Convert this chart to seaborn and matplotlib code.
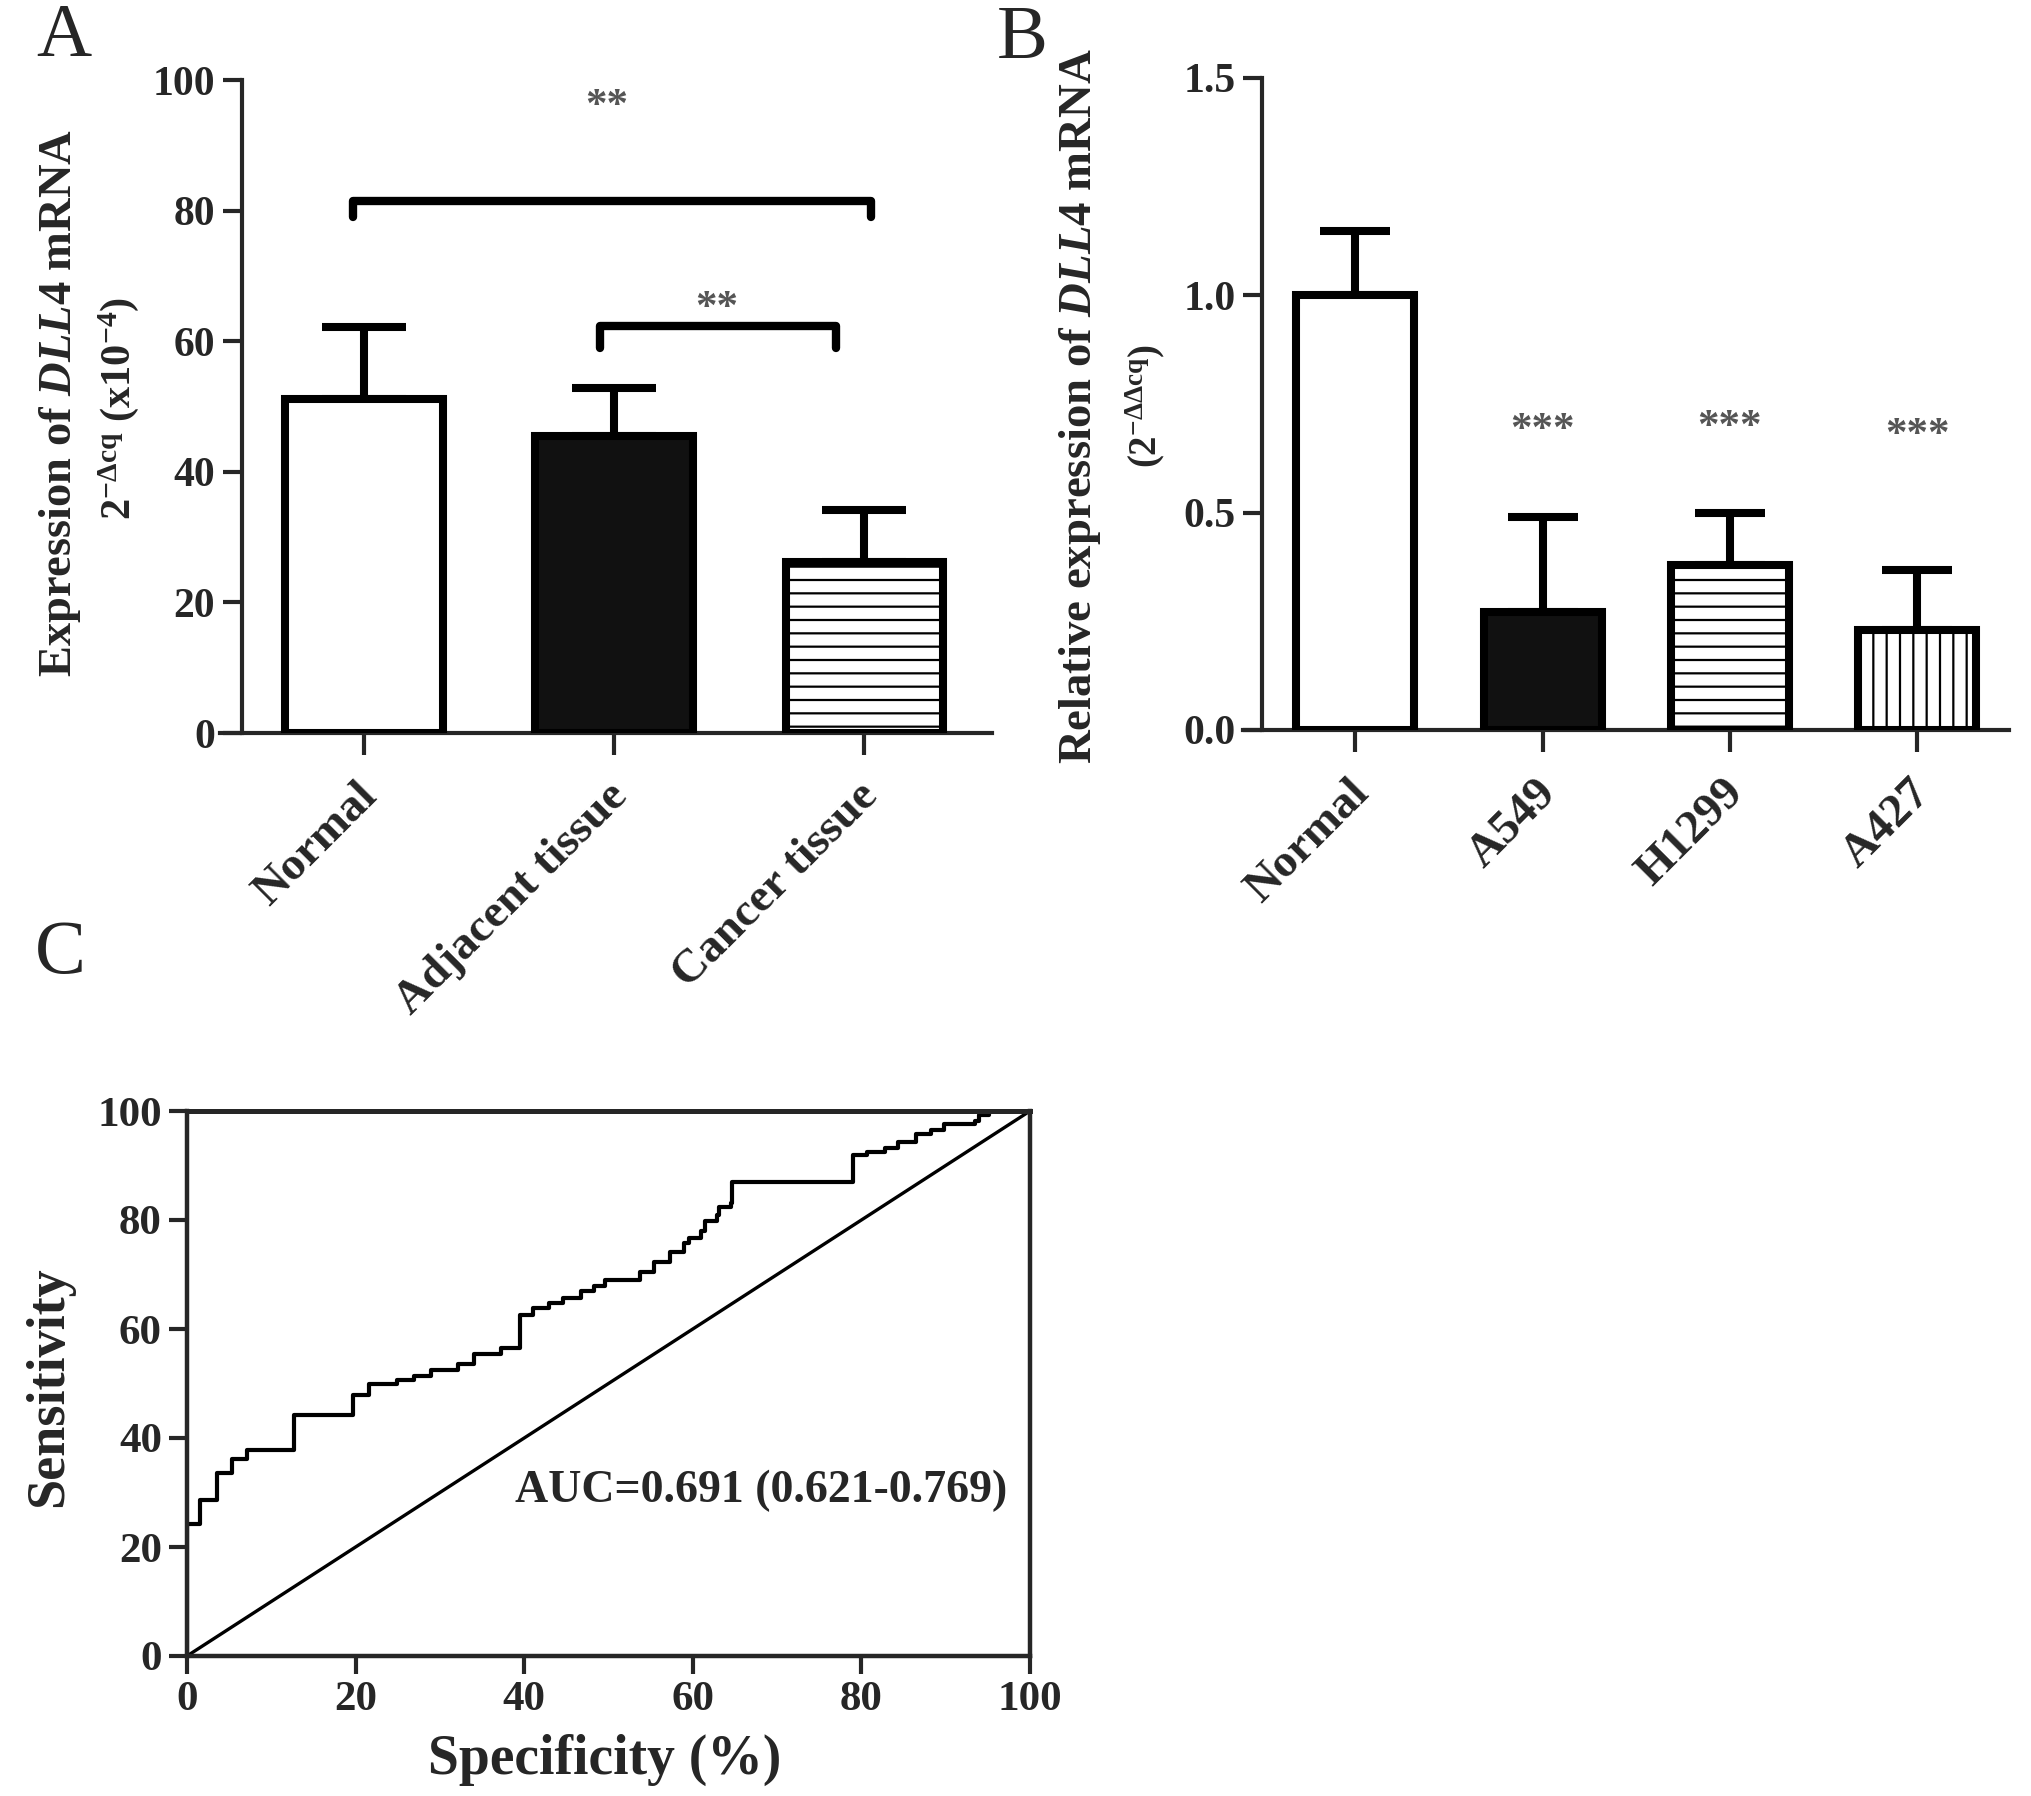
import numpy as np
import pandas as pd
import matplotlib
matplotlib.use("Agg")
import matplotlib.pyplot as plt
from matplotlib.transforms import ScaledTranslation
import seaborn as sns

# ---------------- data ----------------
a_groups = ["Normal", "Adjacent tissue", "Cancer tissue"]
a_means = [51.2, 45.5, 26.2]
a_err_up = [10.9, 7.3, 7.9]
a_ticks = [0, 20, 40, 60, 80, 100]

b_groups = ["Normal", "A549", "H1299", "A427"]
b_means = [1.0, 0.272, 0.379, 0.230]
b_err_up = [0.149, 0.218, 0.120, 0.139]
b_ticks = [0.0, 0.5, 1.0, 1.5]
b_sig = ["", "***", "***", "***"]

roc_spec = [0, 0, 1.55, 3.6, 5.3, 7.1, 12.7, 19.7, 21.6, 24.9, 26.9, 28.9, 32.2,
            34.1, 37.3, 39.5, 41.0, 43.0, 44.6, 46.7, 48.3, 49.6, 53.7, 55.4,
            57.3, 59.0, 59.6, 61.0, 61.5, 62.9, 63.1, 64.5, 64.7, 79.0, 80.7,
            82.8, 84.4, 86.5, 88.2, 89.8, 93.5, 93.9, 95.1, 100]
roc_sens = [0, 24.3, 28.6, 33.5, 36.1, 37.8, 44.2, 47.9, 49.9, 50.7, 51.4, 52.4,
            53.6, 55.5, 56.5, 62.5, 63.8, 64.7, 65.7, 66.9, 67.9, 69.0, 70.4,
            72.3, 74.2, 75.8, 76.7, 78.0, 79.9, 80.9, 82.4, 83.1, 86.9, 91.9,
            92.5, 93.2, 94.4, 95.7, 96.6, 97.6, 98.2, 99.2, 100, 100]
roc_ref = [0, 100]
roc_ticks = [0, 20, 40, 60, 80, 100]
auc_text = "AUC=0.691 (0.621-0.769)"

# ---------------- style ----------------
DPI = 80
S = 100 / DPI          # sizes below are given as at 100 dpi


def pt(v):
    return v * S


sns.set_theme(style="ticks")
plt.rcParams["font.family"] = ["Liberation Serif", "DejaVu Serif"]
plt.rcParams.update({
    "font.weight": "bold",
    "axes.labelweight": "bold",
    "mathtext.fontset": "custom",
    "mathtext.rm": "Liberation Serif:bold",
    "mathtext.bf": "Liberation Serif:bold",
    "mathtext.it": "Liberation Serif:italic:bold",
    "mathtext.default": "rm",
    "hatch.linewidth": pt(1.6),
    "hatch.color": "black",
    "axes.facecolor": "white",
    "figure.facecolor": "white",
})

W, H = 2031, 1796
fig = plt.figure(figsize=(W / DPI, H / DPI), dpi=DPI)


def px_box(x0, x1, ytop, ybot):
    return [x0 / W, 1 - ybot / H, (x1 - x0) / W, (ybot - ytop) / H]


axA = fig.add_axes(px_box(220, 992, 80, 733))
axB = fig.add_axes(px_box(1243, 2009, 78, 730))
axC = fig.add_axes(px_box(187, 1030, 1111, 1656))

EDGE = pt(5.8)


def bar_panel(ax, groups, means, errs, fills, hatches, capsize, ylim, yticks,
              ytick_fmt, xlim, yspine_x):
    df = pd.DataFrame({"group": groups, "value": means})
    sns.barplot(data=df, x="group", y="value", ax=ax, width=0.63,
                errorbar=None, color="white", edgecolor="black",
                linewidth=EDGE, zorder=3)
    for p, fc, h in zip(ax.patches, fills, hatches):
        p.set_facecolor(fc)
        p.set_hatch(h)
        p.set_edgecolor("black")
    x = np.arange(len(groups))
    ax.errorbar(x, means, yerr=[np.zeros(len(means)), errs], fmt="none",
                ecolor="black", elinewidth=EDGE, capsize=pt(capsize),
                capthick=EDGE, zorder=2)
    ax.set_xlim(*xlim)
    ax.set_ylim(*ylim)
    ax.set_yticks(yticks)
    ax.set_yticklabels([ytick_fmt(v) for v in yticks])
    ax.set_xlabel("")
    ax.set_ylabel("")
    for s in ["top", "right"]:
        ax.spines[s].set_visible(False)
    for s in ["left", "bottom"]:
        ax.spines[s].set_linewidth(pt(3))
    ax.spines["left"].set_position(("data", yspine_x))
    ax.spines["left"].set_bounds(ylim[0], ylim[1])
    ax.tick_params(axis="y", direction="out", length=pt(14), width=pt(3),
                   pad=pt(5), labelsize=pt(30))
    ax.tick_params(axis="x", direction="out", length=pt(16), width=pt(3),
                   pad=pt(25), labelsize=pt(34))
    ax.set_xticks(x)
    ax.set_xticklabels(groups, rotation=45, ha="right", va="center",
                       rotation_mode="anchor")
    off = ScaledTranslation(pt(5) / 72, 0, fig.dpi_scale_trans)
    for lab in ax.get_xticklabels():
        lab.set_transform(lab.get_transform() + off)
        lab.set_fontweight("bold")
    for lab in ax.get_yticklabels():
        lab.set_fontweight("bold")


# ---------- Panel A ----------
bar_panel(axA, a_groups, a_means, a_err_up,
          fills=["white", "#111111", "white"], hatches=["", "", "-"],
          capsize=30, ylim=(0, 100), yticks=a_ticks,
          ytick_fmt=lambda v: f"{v:d}", xlim=(-0.576, 2.51), yspine_x=-0.49)


def bracket(ax, x0, x1, y, drop):
    ax.plot([x0, x0, x1, x1], [y - drop, y, y, y - drop], color="black",
            lw=pt(6), solid_capstyle="round", solid_joinstyle="round",
            clip_on=False, zorder=4)


bracket(axA, -0.045, 2.026, 81.5, 2.5)
bracket(axA, 0.942, 1.886, 62.3, 3.3)
axA.text(0.97, 94.3, "**", ha="center", va="baseline", fontsize=pt(31),
         color="#555555", clip_on=False)
axA.text(1.41, 63.4, "**", ha="center", va="baseline", fontsize=pt(31),
         color="#555555", clip_on=False)

fig.text(60 / W, 1 - 403 / H, r"Expression of $\mathit{DLL4}$ mRNA",
         rotation=90, ha="center", va="center", fontsize=pt(33.5))
fig.text(119 / W, 1 - 408 / H, r"2$^{-\Delta cq}$ (x10$^{-4}$)",
         rotation=90, ha="center", va="center", fontsize=pt(30.5))

# ---------- Panel B ----------
bar_panel(axB, b_groups, b_means, b_err_up,
          fills=["white", "#111111", "white", "white"],
          hatches=["", "", "-", "|"],
          capsize=25, ylim=(0, 1.5), yticks=b_ticks,
          ytick_fmt=lambda v: f"{v:.1f}", xlim=(-0.60, 3.49), yspine_x=-0.497)
b_star_y = [0, 0.665, 0.671, 0.654]
for i, s in enumerate(b_sig):
    if s:
        axB.text(i, b_star_y[i], s, ha="center", va="baseline",
                 fontsize=pt(31), color="#555555", clip_on=False)

fig.text(1080 / W, 1 - 406 / H, r"Relative expression of $\mathit{DLL4}$ mRNA",
         rotation=90, ha="center", va="center", fontsize=pt(33.7))
fig.text(1145 / W, 1 - 406 / H, r"(2$^{-\Delta\Delta cq}$)",
         rotation=90, ha="center", va="center", fontsize=pt(28))

# ---------- Panel C ----------
sns.lineplot(x=roc_spec, y=roc_sens, ax=axC, estimator=None, sort=False,
             drawstyle="steps-post", color="black", lw=pt(3.0))
sns.lineplot(x=roc_ref, y=roc_ref, ax=axC, estimator=None, sort=False,
             color="black", lw=pt(2.4))
axC.set_xlim(0, 100)
axC.set_ylim(0, 100)
axC.set_xticks(roc_ticks)
axC.set_yticks(roc_ticks)
axC.set_xticklabels([str(t) for t in roc_ticks], fontweight="bold")
axC.set_yticklabels([str(t) for t in roc_ticks], fontweight="bold")
axC.tick_params(direction="out", length=pt(13), width=pt(3),
                labelsize=pt(31), pad=pt(5))
for s in ["left", "bottom", "right"]:
    axC.spines[s].set_linewidth(pt(3.2))
axC.spines["top"].set_linewidth(pt(3.6))
axC.set_xlabel("")
axC.set_ylabel("")
axC.text(38.9, 28.3, auc_text, ha="left", va="baseline", fontsize=pt(33))

fig.text(49 / W, 1 - 1387 / H, "Sensitivity", rotation=90, ha="center",
         va="center", fontsize=pt(39))
fig.text(605 / W, 1 - 1774 / H, "Specificity (%)", ha="center",
         va="baseline", fontsize=pt(40))

# ---------- panel letters ----------
for lbl, (xx, yy) in {"A": (64, 38), "B": (1022, 40), "C": (60, 955)}.items():
    fig.text(xx / W, 1 - yy / H, lbl, ha="center", va="center",
             fontsize=pt(55), fontweight="normal")

fig.savefig("out.png", dpi=DPI, facecolor="white")
